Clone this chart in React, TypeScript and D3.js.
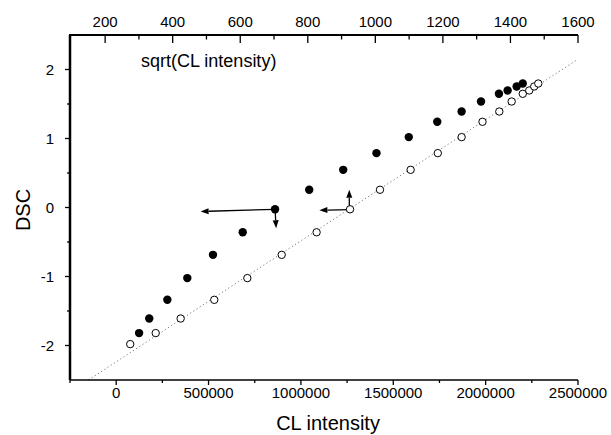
import React from "react";
import * as d3 from "d3";

// DSC values (shared by the paired points)
const dscOpen = [-1.98, -1.82, -1.609, -1.338, -1.023, -0.686, -0.359, -0.026, 0.257, 0.546, 0.788, 1.02, 1.242, 1.391, 1.536, 1.648, 1.696, 1.754, 1.797];
const clOpen = [76000, 214000, 349000, 531000, 710000, 896000, 1085000, 1266000, 1428000, 1594000, 1741000, 1870000, 1983000, 2074000, 2141000, 2201000, 2236000, 2263000, 2285000];
const dscFilled = [-1.82, -1.609, -1.338, -1.023, -0.686, -0.359, -0.026, 0.257, 0.546, 0.788, 1.02, 1.242, 1.391, 1.536, 1.648, 1.696, 1.754, 1.797];
const clFilled = [124000, 179000, 277000, 385000, 524000, 685000, 860000, 1045000, 1229000, 1409000, 1584000, 1738000, 1870000, 1975000, 2072000, 2119000, 2168000, 2201000];

// dotted reference line
const fitX = [-150000, 2500000];
const fitY = [-2.5, 2.15];

// arrows [x1, y1, x2, y2] in data units
const arrows = [
  [860000, -0.026, 457000, -0.058],
  [860000, -0.026, 866000, -0.3],
  [1266000, -0.03, 1100000, -0.04],
  [1262000, -0.026, 1262000, 0.257],
];

const bottomTicks = [0, 500000, 1000000, 1500000, 2000000, 2500000];
const bottomMinor = [-250000, 250000, 750000, 1250000, 1750000, 2250000];
const topTicks = [200, 400, 600, 800, 1000, 1200, 1400, 1600];
const topMinor = [300, 500, 700, 900, 1100, 1300, 1500];
const yTicks = [-2, -1, 0, 1, 2];
const yMinor = [-1.5, -0.5, 0.5, 1.5];

const FONT = "'Liberation Sans', Arial, sans-serif";

export default function App() {
  const L = 70, R = 578, T = 35, B = 380;
  const x = d3.scaleLinear().domain([-250000, 2500000]).range([L, R]);
  const xTop = d3.scaleLinear().domain([96, 1600]).range([L, R]);
  const y = d3.scaleLinear().domain([-2.5, 2.5]).range([B, T]);
  const line = d3.line<[number, number]>().x((d) => x(d[0])).y((d) => y(d[1]));
  const fitPts: [number, number][] = fitX.map((v, i) => [v, fitY[i]]);

  const arrowEls = arrows.map((a, i) => {
    const x1 = x(a[0]), y1 = y(a[1]), x2 = x(a[2]), y2 = y(a[3]);
    const ang = Math.atan2(y2 - y1, x2 - x1);
    const len = 8, hw = 3;
    const bx = x2 - len * Math.cos(ang), by = y2 - len * Math.sin(ang);
    const p1 = [bx + hw * Math.sin(ang), by - hw * Math.cos(ang)];
    const p2 = [bx - hw * Math.sin(ang), by + hw * Math.cos(ang)];
    return (
      <g key={i}>
        <line x1={x1} y1={y1} x2={bx} y2={by} stroke="#000" strokeWidth={1.3} />
        <polygon points={`${x2},${y2} ${p1[0]},${p1[1]} ${p2[0]},${p2[1]}`} fill="#000" />
      </g>
    );
  });

  return (
    <svg width={611} height={435} style={{ position: "absolute", left: 0, top: 0, background: "#fff" }} fontFamily={FONT}>
      <rect x={0} y={0} width={611} height={435} fill="#fff" />
      {/* dotted line */}
      <path d={line(fitPts) || ""} fill="none" stroke="#777" strokeWidth={1} strokeDasharray="1.2 2.6" />
      {/* arrows */}
      {arrowEls}
      {/* open circles */}
      {clOpen.map((v, i) => (
        <circle key={"o" + i} cx={x(v)} cy={y(dscOpen[i])} r={3.7} fill="#fff" stroke="#000" strokeWidth={1} />
      ))}
      {/* filled circles */}
      {clFilled.map((v, i) => (
        <circle key={"f" + i} cx={x(v)} cy={y(dscFilled[i])} r={4.2} fill="#000" />
      ))}

      {/* axes lines */}
      <line x1={L} y1={T} x2={L} y2={B} stroke="#000" strokeWidth={2.5} />
      <line x1={L - 1} y1={T} x2={R} y2={T} stroke="#000" strokeWidth={2} />
      <line x1={L} y1={B} x2={R} y2={B} stroke="#000" strokeWidth={1.5} />

      {/* bottom ticks */}
      {bottomTicks.map((t) => (
        <g key={"bt" + t}>
          <line x1={x(t)} x2={x(t)} y1={B} y2={B + 5} stroke="#000" strokeWidth={1.3} />
          <text x={x(t)} y={398} textAnchor="middle" fontSize={15}>{t}</text>
        </g>
      ))}
      {bottomMinor.map((t) => (
        <line key={"bm" + t} x1={x(t)} x2={x(t)} y1={B} y2={B + 3} stroke="#000" strokeWidth={1.3} />
      ))}

      {/* top ticks */}
      {topTicks.map((t) => (
        <g key={"tt" + t}>
          <line x1={xTop(t)} x2={xTop(t)} y1={T} y2={T + 8} stroke="#000" strokeWidth={1.3} />
          <text x={xTop(t)} y={26.5} textAnchor="middle" fontSize={15}>{t}</text>
        </g>
      ))}
      {topMinor.map((t) => (
        <line key={"tm" + t} x1={xTop(t)} x2={xTop(t)} y1={T} y2={T + 4.5} stroke="#000" strokeWidth={1.3} />
      ))}

      {/* left ticks */}
      {yTicks.map((t) => (
        <g key={"yt" + t}>
          <line x1={L - 5} x2={L} y1={y(t)} y2={y(t)} stroke="#000" strokeWidth={1.3} />
          <text x={54} y={y(t)} dy="0.36em" textAnchor="end" fontSize={15}>{t}</text>
        </g>
      ))}
      {yMinor.map((t) => (
        <line key={"ym" + t} x1={L - 3} x2={L} y1={y(t)} y2={y(t)} stroke="#000" strokeWidth={1.3} />
      ))}

      {/* labels */}
      <text x={141} y={67} fontSize={18}>sqrt(CL intensity)</text>
      <text x={328} y={430} textAnchor="middle" fontSize={20}>CL intensity</text>
      <text transform="translate(30,210) rotate(-90)" textAnchor="middle" fontSize={20}>DSC</text>
    </svg>
  );
}
